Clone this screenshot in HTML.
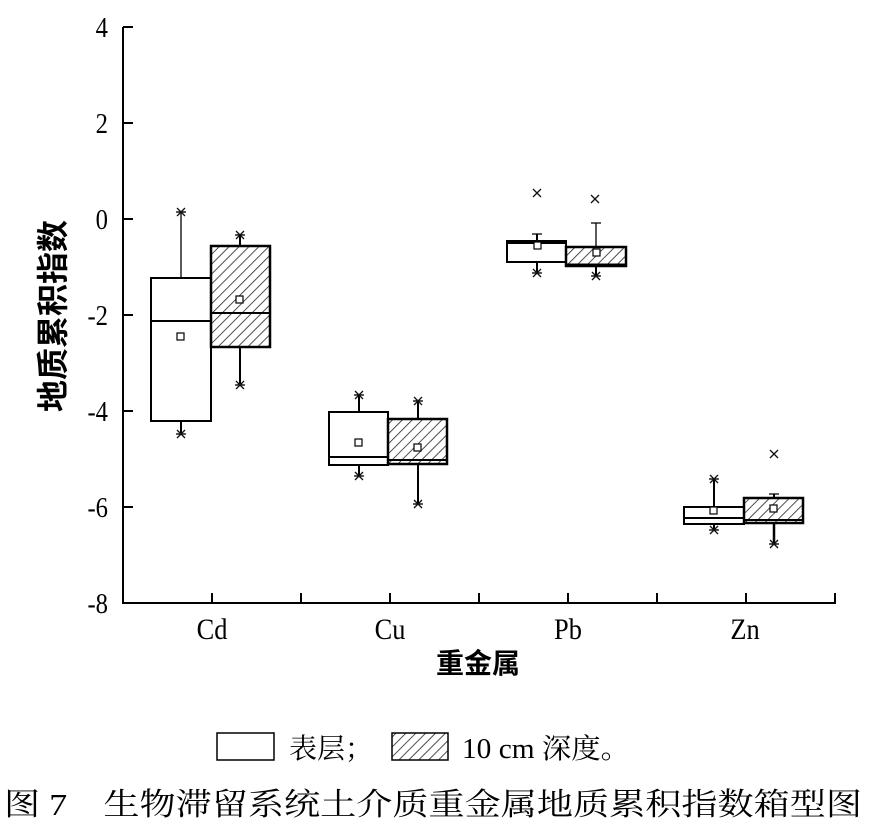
<!DOCTYPE html>
<html><head><meta charset="utf-8"><style>
html,body{margin:0;padding:0;background:#fff;}
svg{display:block;}
</style></head><body>
<svg width="869" height="827" viewBox="0 0 869 827" xmlns="http://www.w3.org/2000/svg">
<defs>
<pattern id="h" patternUnits="userSpaceOnUse" width="7" height="7" patternTransform="rotate(45)">
<rect width="7" height="7" fill="#fff"/><line x1="0" y1="0" x2="0" y2="7" stroke="#222" stroke-width="1.6"/>
</pattern>
<g id="st"><path d="M-4,-4L4,4M-4,4L4,-4M-4,0L4,0" stroke="#111" stroke-width="1.3"/></g>
<g id="x"><path d="M-4,-4L4,4M-4,4L4,-4" stroke="#111" stroke-width="1.3"/></g>
</defs>
<g stroke="#000" stroke-width="2" fill="none">
<line x1="123" y1="27" x2="123" y2="604"/>
<line x1="122" y1="603" x2="836" y2="603"/>
<path d="M123,27h10M123,123h10M123,219h10M123,315h10M123,411h10M123,507h10"/>
<path d="M212,603v-10M301,603v-10M390,603v-10M479,603v-10M568,603v-10M657,603v-10M746,603v-10M835,603v-10"/>
</g>
<g font-family="Liberation Serif, serif" font-size="28" text-anchor="end" fill="#000">
<text transform="translate(108,37) scale(0.88,1)">4</text><text transform="translate(108,133) scale(0.88,1)">2</text><text transform="translate(108,229) scale(0.88,1)">0</text>
<text transform="translate(108,325) scale(0.88,1)">-2</text><text transform="translate(108,421) scale(0.88,1)">-4</text><text transform="translate(108,517) scale(0.88,1)">-6</text><text transform="translate(108,613) scale(0.88,1)">-8</text>
</g>
<g font-family="Liberation Serif, serif" font-size="30" text-anchor="middle" fill="#000">
<text transform="translate(212,639) scale(0.88,1)">Cd</text><text transform="translate(390,639) scale(0.88,1)">Cu</text><text transform="translate(568,639) scale(0.88,1)">Pb</text><text transform="translate(745,639) scale(0.88,1)">Zn</text>
</g>
<text x="478" y="673" font-family="Liberation Sans, Noto Sans CJK SC, sans-serif" font-weight="bold" font-size="28" text-anchor="middle">重金属</text>
<text transform="translate(64,316) rotate(-90)" font-family="Liberation Sans, Noto Sans CJK SC, sans-serif" font-weight="bold" font-size="32" text-anchor="middle">地质累积指数</text>

<g stroke="#000" stroke-width="2">
<line x1="181" y1="212" x2="181" y2="278" stroke-width="1.3"/><line x1="181" y1="421" x2="181" y2="434"/>
<rect x="151" y="278" width="60" height="143" fill="#fff"/><line x1="151" y1="321" x2="211" y2="321"/>
<line x1="240" y1="235" x2="240" y2="246"/><line x1="240" y1="347" x2="240" y2="385"/>
<rect x="211" y="246" width="59" height="101" fill="url(#h)" stroke-width="2.5"/><line x1="211" y1="313" x2="270" y2="313"/>
<line x1="359" y1="395" x2="359" y2="412"/><line x1="359" y1="465" x2="359" y2="476"/>
<rect x="329" y="412" width="59" height="53" fill="#fff"/><line x1="329" y1="457" x2="388" y2="457"/>
<line x1="418" y1="401" x2="418" y2="419"/><line x1="418" y1="464" x2="418" y2="504"/>
<rect x="388" y="419" width="59" height="45" fill="url(#h)" stroke-width="2.5"/><line x1="388" y1="460" x2="447" y2="460"/>
<line x1="537" y1="234" x2="537" y2="241"/><line x1="537" y1="262" x2="537" y2="273"/>
<rect x="507" y="241" width="59" height="21" fill="#fff"/><line x1="507" y1="243" x2="566" y2="243"/>
<line x1="596" y1="223" x2="596" y2="247" stroke-width="1.3"/><line x1="596" y1="266" x2="596" y2="276"/>
<rect x="566" y="247" width="60" height="19" fill="url(#h)" stroke-width="2.5"/><line x1="566" y1="265" x2="626" y2="265" stroke-width="3"/>
<line x1="714" y1="479" x2="714" y2="507"/><line x1="714" y1="524" x2="714" y2="530"/>
<rect x="684" y="507" width="60" height="17" fill="#fff"/><line x1="684" y1="518" x2="744" y2="518"/>
<line x1="774" y1="494" x2="774" y2="498"/><line x1="774" y1="523" x2="774" y2="544" stroke-width="2.5"/>
<rect x="744" y="498" width="59" height="25" fill="url(#h)" stroke-width="2.5"/><line x1="744" y1="520" x2="803" y2="520"/>
</g>
<g stroke="#000" stroke-width="1.2">
<path d="M176,212h10M176,434h10M235,235h10M235,385h10M354,395h10M354,476h10M413,401h10M413,504h10M532,234h10M532,273h10M591,223h10M591,276h10M709,479h10M709,530h10M769,494h10M769,544h10"/>
</g>
<use href="#st" x="181" y="212"/><use href="#st" x="181" y="434"/><use href="#st" x="240" y="235"/><use href="#st" x="240" y="385"/>
<use href="#st" x="359" y="395"/><use href="#st" x="359" y="476"/><use href="#st" x="418" y="401"/><use href="#st" x="418" y="504"/>
<use href="#st" x="537" y="273"/><use href="#st" x="596" y="276"/><use href="#st" x="714" y="479"/><use href="#st" x="714" y="530"/><use href="#st" x="774" y="544"/>
<use href="#x" x="537" y="193"/><use href="#x" x="595" y="199"/><use href="#x" x="774" y="454"/>
<g fill="#fff" stroke="#000" stroke-width="1.2">
<rect x="177" y="333" width="7" height="7"/><rect x="236" y="296" width="7" height="7"/>
<rect x="355" y="439" width="7" height="7"/><rect x="414" y="444" width="7" height="7"/>
<rect x="534" y="242" width="7" height="7"/><rect x="593" y="249" width="7" height="7"/>
<rect x="710" y="507" width="7" height="7"/><rect x="770" y="505" width="7" height="7"/>
</g>

<rect x="217" y="733" width="57" height="27" fill="#fff" stroke="#000" stroke-width="1.5"/>
<text x="289" y="758" font-family="Liberation Serif, Noto Serif CJK SC, serif" font-size="28">表层；</text>
<rect x="392" y="733" width="56" height="27" fill="url(#h)" stroke="#000" stroke-width="1.5"/>
<text x="462" y="758" font-family="Liberation Serif, Noto Serif CJK SC, serif" font-size="28" textLength="168" lengthAdjust="spacingAndGlyphs">10 cm 深度。</text>
<text x="4" y="815" font-family="Liberation Serif, Noto Serif CJK SC, serif" font-size="31" textLength="858" lengthAdjust="spacingAndGlyphs">图 7　生物滞留系统土介质重金属地质累积指数箱型图</text>
</svg>
</body></html>
